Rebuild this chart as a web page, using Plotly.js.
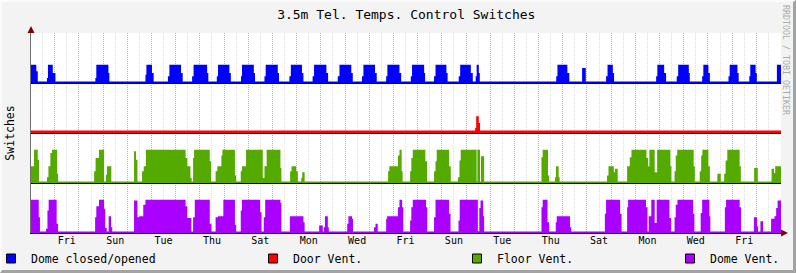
<!DOCTYPE html>
<html><head><meta charset="utf-8">
<script src="https://cdn.plot.ly/plotly-3.0.1.min.js"></script>
<style>
html,body{margin:0;padding:0;background:#f3f3f3;}
#wrap{position:relative;width:796px;height:273px;overflow:hidden;}
#chart{width:796px;height:273px;}
#frame{position:absolute;left:0;top:0;width:796px;height:273px;box-sizing:border-box;border-top:2px solid #fbfbfb;border-left:2px solid #fbfbfb;border-right:3px solid #a3a3a3;border-bottom:3px solid #a3a3a3;pointer-events:none;}
</style></head><body>
<div id="wrap"><div id="chart"></div><div id="frame"></div></div>
<script>
// Time is in days since Thursday 00:00 (start of the graph window)
const dayLabels   = ['Fri','Sun','Tue','Thu','Sat','Mon','Wed','Fri','Sun','Tue','Thu','Sat','Mon','Wed','Fri'];
const dayLabelPos = [1.5,3.5,5.5,7.5,9.5,11.5,13.5,15.5,17.5,19.5,21.5,23.5,25.5,27.5,29.5];
const seriesNames = ['Dome closed/opened','Door Vent.','Floor Vent.','Dome Vent.'];

// Dome closed/opened (step change points and level held until next point)
const domeT = [0,0.24,0.30, 0.68,0.72,0.92,1.03, 2.68,2.72,3.22,3.26, 4.75,4.79,5.02,5.09,
  5.68,5.74,6.22,6.29, 6.68,6.74,7.30,7.35, 7.70,7.75,8.22,8.28, 8.70,8.74,9.23,9.28,
  9.67,9.72,10.22,10.27, 10.70,10.76,11.22,11.28, 11.66,11.72,12.23,12.30, 12.70,12.77,13.26,13.32,
  13.70,13.76,14.24,14.31, 14.70,14.75,15.25,15.32, 15.72,15.77,16.27,16.31, 16.68,16.74,17.19,17.24,
  17.70,17.76,18.20,18.28, 18.40,18.44,18.53,18.57, 21.73,21.78,22.19,22.27, 22.80,22.95,
  23.79,23.85,24.07,24.12, 25.86,25.91,26.19,26.27, 26.71,26.77,27.21,27.25, 27.76,27.81,28.02,28.08,
  28.85,28.90,29.22,29.27, 29.71,29.75,29.97,30.02, 30.85,31.02];
const domeV = [1.1,0.7,0, 0.3,1.1,0.6,0, 0.3,1.1,0.6,0, 0.5,1.1,0.6,0,
  0.4,1.1,0.6,0, 0.4,1.1,0.6,0, 0.4,1.1,0.6,0, 0.4,1.1,0.6,0,
  0.4,1.1,0.6,0, 0.4,1.1,0.6,0, 0.4,1.1,0.6,0, 0.4,1.1,0.6,0,
  0.4,1.1,0.6,0, 0.4,1.1,0.6,0, 0.4,1.1,0.6,0, 0.4,1.1,0.6,0,
  0.4,1.1,0.6,0, 0.4,1.1,0.6,0, 0.4,1.1,0.6,0, 0.9,0,
  0.4,1.1,0.6,0, 0.4,1.1,0.6,0, 0.4,1.1,0.6,0, 0.4,1.1,0.6,0,
  0.4,1.1,0.6,0, 0.4,1.1,0.6,0, 1.1,1.1];

// Door Vent.
const doorT = [0,18.38,18.42,18.53,18.58,31.02];
const doorV = [0,0.3,1,0.6,0,0];

// Floor Vent.
const floorT = [0,0.145,0.30,0.35, 0.68,0.74,0.82,0.89,1.10,1.14, 2.63,2.69,2.83,3.04,3.12,3.16,3.34,
  4.28,4.36,4.42, 4.61,4.68,4.77,6.41,6.48,6.61,6.66,6.72,6.76,7.41,7.46,
  7.65,7.72,7.89,7.93,8.45,8.50, 8.69,8.74,8.91,9.60,9.67,9.76,10.33,10.37,
  10.73,10.79,10.98,11.05,11.19,11.23,11.33, 14.78,14.83,15.19,15.25,15.34,15.38,
  15.69,15.74,15.80,16.32,16.39, 16.68,16.74,16.79,17.30,17.37,
  17.67,17.73,17.78,18.44,18.47,18.58,18.62,18.75, 21.12,21.17,21.39,21.44, 21.68,21.72,21.83,21.87,
  23.83,23.89,24.11,24.16,24.27, 24.66,24.77,24.84,25.46,25.53,25.58,25.80,25.90,26.45,26.49,
  26.62,26.67,26.73,27.41,27.46, 27.66,27.72,27.77,28.02,28.08, 28.39,28.53,
  28.67,28.73,28.80,29.31,29.36, 29.91,30.06, 30.63,30.73,30.78,31.02];
const floorV = [1,2,1.4,0, 0.35,1,1.8,2,0.55,0, 0.7,1.5,2,0,0.5,1,0,
  1.9,1.4,0, 0.7,1,2,1.5,1,0.3,0,1.5,2,1.3,0,
  0.7,1,1.65,2,0.45,0, 0.7,1,2,0.3,1,2,0.9,0,
  0.7,1,0.7,0,0.3,0.65,0, 0.7,1,1.65,2,0.7,0,
  0.7,1.5,2,1.3,0, 0.7,1.3,2,1,0,
  0.35,1.35,2,0,2,0,1.6,0, 1.55,2,0.45,0, 0.35,1,0.35,0,
  0.45,1,0.65,0.85,0, 1,1.55,2,1.5,1,2,0.65,2,1,0,
  0.7,1.65,2,1,0, 0.7,1.65,2,1,0, 0.55,0,
  0.55,1.35,2,1,0, 0.9,0, 0.85,0.6,1,1];

// Dome Vent.
const ventT = [0,0.34,0.39, 0.64,0.70,0.75,1.08,1.14, 2.67,2.72,2.83,3.04,3.09,3.15, 3.23,3.33,3.38,
  4.28,4.42,4.49,4.66,4.75,6.41,6.48,6.65,6.72,6.79,7.41,7.48,
  7.65,7.75,7.97,8.45,8.50, 8.69,8.74,9.49,9.55, 9.64,9.70,10.33,10.37, 10.72,11.28,11.33,
  11.93,12.08, 12.12,12.17,12.29,12.33, 13.09,13.14,13.29,13.33, 14.20,14.26,14.35,
  14.70,14.74,15.19,15.25,15.36,15.41, 15.69,15.74,15.80,16.35,16.40, 16.68,16.74,17.30,17.36,
  17.69,17.74,18.49,18.55,18.60,18.71,18.75, 21.12,21.17,21.37,21.44, 21.71,21.75,22.30,22.35,
  23.74,23.79,24.37,24.43, 24.66,24.70,25.44,25.50, 25.55,25.66,25.80,25.88,26.41,26.48,
  26.62,26.67,26.74,27.39,27.44, 27.70,27.76,28.06,28.10, 28.70,28.75,29.31,29.37,
  29.90,30.03,30.07,30.17,30.28,30.61,30.75,30.82,30.88,31.02];
const ventV = [2,0.95,0, 0.25,1.35,2,0.55,0, 0.95,1.6,2,1.45,0.3,0, 1,0.35,0,
  1.95,0.95,1,1.7,2,1.6,0.9,0,0.95,2,0.55,0,
  0.95,1,2,0.5,0, 1.35,2,1.25,0, 0.95,2,1.8,0, 1,0.65,0,
  0.45,0, 0.35,1,0.35,0, 0.55,1,0.85,0, 0.35,0.55,0,
  0.85,1,1.55,2,1.55,0, 0.75,1.55,2,1.55,0, 0.95,2,1.15,0,
  0.75,2,0.1,1.5,1.95,1,0, 1.55,2,0.65,0, 0.65,1,0.35,0,
  1.15,2,1.15,0, 1.55,2,1.55,0, 1,2,0.6,2,0.9,0,
  0.95,1.7,2,1.15,0, 1.2,2,1,0, 1.55,2,1.55,0,
  0.95,0.4,0,0.7,0,0.85,1,1.5,1.95,1.95];

// ---- drawing ----
const X0 = 0.02, X1 = 31.02;
const RULE_DROP = 0.03;
const bands = [
  {name: seriesNames[3], t: ventT,  v: ventV,  base: 0, color: '#aa00ff', lift: 0.09, legend: 'legend4'},
  {name: seriesNames[2], t: floorT, v: floorV, base: 3, color: '#55aa00', lift: 0.09, legend: 'legend3'},
  {name: seriesNames[1], t: doorT,  v: doorV,  base: 6, color: '#ff0000', lift: 0.15, legend: 'legend2'},
  {name: seriesNames[0], t: domeT,  v: domeV,  base: 9, color: '#0000ff', lift: 0.09, legend: 'legend'}
];
const traces = [];
bands.forEach(b => {
  traces.push({type:'scatter', mode:'lines', x:[X0, X1], y:[b.base - RULE_DROP, b.base - RULE_DROP],
    line:{color:'#000', width:1}, showlegend:false, hoverinfo:'skip'});
  traces.push({type:'scatter', mode:'lines', x:b.t, y:b.v.map(v => b.base + Math.max(v, b.lift)),
    line:{shape:'hv', width:0, color:b.color}, fill:'tonexty', fillcolor:b.color,
    showlegend:false, hoverinfo:'skip', name:b.name});
});
bands.slice().reverse().forEach(b => {
  traces.push({type:'scatter', mode:'markers', x:[null], y:[null], xaxis:'x2', name:b.name, legend:b.legend,
    marker:{symbol:'square', size:9, color:b.color, line:{color:'#000', width:1}}});
});

// day boundaries (major grid) and noons (minor grid)
const gridDays = [], gridNoons = [];
for (let d = Math.ceil(X0); d <= Math.floor(X1); d++) gridDays.push(d);
for (let d = Math.ceil(X0); d <= Math.floor(X1); d++) gridNoons.push(d - 0.5);

const mono = 'DejaVu Sans Mono';
const legBase = {orientation:'h', xanchor:'left', yanchor:'middle', y:-0.1275,
  bgcolor:'rgba(0,0,0,0)', borderwidth:0, font:{family:mono, size:11.5, color:'#000'}};
const layout = {
  width:796, height:273,
  margin:{l:31, r:15, t:33, b:40, pad:0, autoexpand:false},
  paper_bgcolor:'#f3f3f3', plot_bgcolor:'#ffffff',
  font:{family:mono, color:'#000'},
  title:{text:'3.5m Tel. Temps. Control Switches', font:{family:mono, size:13, color:'#000'},
    xref:'container', x:0.5104, xanchor:'center', yref:'container', y:1 - 14/273, yanchor:'middle'},
  showlegend:true,
  xaxis:{range:[X0, X1], tickmode:'array', tickvals:gridDays, showticklabels:false, ticks:'',
    showgrid:true, gridcolor:'#f09c9c', griddash:'1px,1px', gridwidth:1,
    minor:{tickmode:'array', tickvals:gridNoons, showgrid:true, gridcolor:'#dddddd', griddash:'1px,1px', gridwidth:1},
    showline:true, linecolor:'#000', linewidth:1, zeroline:false, fixedrange:true},
  xaxis2:{range:[X0, X1], overlaying:'x', anchor:'y', side:'bottom', tickmode:'array',
    tickvals:dayLabelPos, ticktext:dayLabels, ticks:'', showgrid:false, showline:false, zeroline:false,
    tickfont:{family:mono, size:10, color:'#000'}, fixedrange:true},
  yaxis:{range:[0,12], showticklabels:false, ticks:'', showgrid:false, zeroline:false,
    showline:true, linecolor:'#6f6f6f', linewidth:1, fixedrange:true,
    title:{text:'Switches', font:{family:mono, size:11.5, color:'#000'}, standoff:12}},
  legend:  Object.assign({}, legBase, {x:(31-40-31)/750}),
  legend2: Object.assign({}, legBase, {x:(293-40-31)/750}),
  legend3: Object.assign({}, legBase, {x:(497-40-31)/750}),
  legend4: Object.assign({}, legBase, {x:(710-40-31)/750}),
  annotations:[{text:'RRDTOOL / TOBI OETIKER', xref:'paper', yref:'paper', x:(786-31)/750, y:(233-60)/200,
    xanchor:'center', yanchor:'middle', textangle:90, showarrow:false,
    font:{family:mono, size:8.3, color:'#ababab'}}],
  shapes:[
    {type:'path', xref:'paper', yref:'paper', xsizemode:'pixel', ysizemode:'pixel', xanchor:0, yanchor:1,
     path:'M-3.5,0 L3.5,0 L0,7 Z', fillcolor:'#7f0000', line:{width:0}},
    {type:'path', xref:'paper', yref:'paper', xsizemode:'pixel', ysizemode:'pixel', xanchor:1, yanchor:0,
     path:'M0,-3.5 L0,3.5 L7,0 Z', fillcolor:'#7f0000', line:{width:0}}
  ]
};
Plotly.newPlot('chart', traces, layout, {staticPlot:true, displayModeBar:false});
</script>
</body></html>
